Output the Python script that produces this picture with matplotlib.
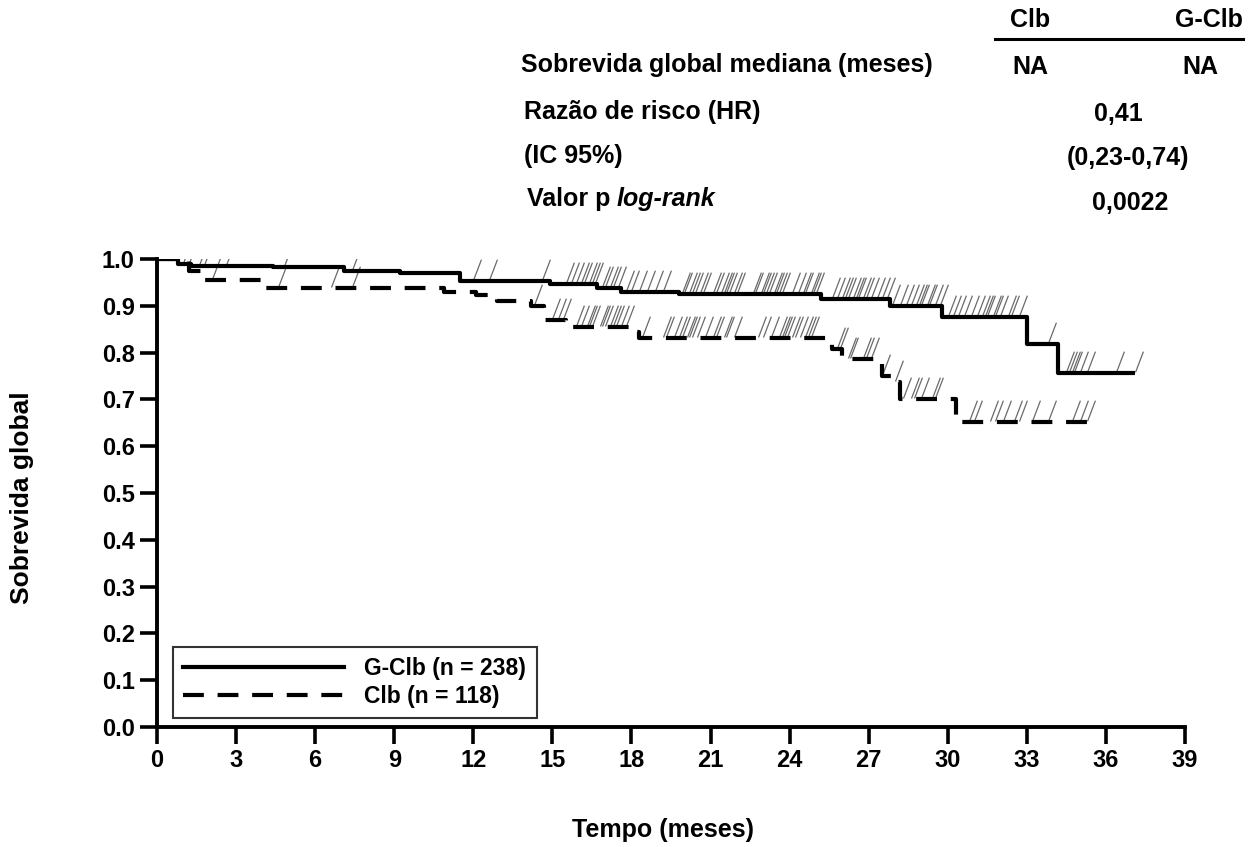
import numpy as np
import matplotlib
matplotlib.use("Agg")
import matplotlib.pyplot as plt
from matplotlib.path import Path
from matplotlib.lines import Line2D

plt.rcParams['font.family'] = ['Liberation Sans', 'DejaVu Sans']
plt.rcParams['font.weight'] = 'bold'

# ---- data: step times (month where the new value starts) and survival values
gclb_t = [0, 0.8, 1.3, 4.4, 7.1, 9.2, 11.5, 14.9, 16.7, 17.6, 19.8, 25.2, 27.8, 29.8, 33.0, 34.2]
gclb_s = [1.0, 0.99, 0.985, 0.983, 0.974, 0.970, 0.953, 0.946, 0.938, 0.929, 0.925, 0.914, 0.899, 0.876, 0.818, 0.756]
gclb_end = 37.1
gclb_cens = [0.3, 0.4, 0.5, 0.6, 0.7, 1.0, 1.2, 1.6, 1.8, 2.6, 4.8, 7.4, 12.0, 12.6, 14.6,
             15.5, 15.7, 15.9, 16.1, 16.2, 16.4, 16.5, 16.6, 16.9, 17.0, 17.2, 17.3, 17.5,
             17.8, 18.0, 18.3, 18.6, 18.9, 19.2, 19.9, 20.0, 20.2, 20.3, 20.4, 20.6, 20.7,
             21.1, 21.2, 21.4, 21.5, 21.6, 21.7, 21.9, 22.0, 22.6, 22.7, 22.9, 23.0, 23.1,
             23.2, 23.4, 23.5, 23.6, 23.7, 24.1, 24.3, 24.5, 24.6, 24.8, 24.9, 25.0,
             25.6, 25.8, 26.0, 26.1, 26.2, 26.4, 26.5, 26.6, 26.8, 26.9, 27.1, 27.3, 27.5, 27.7, 27.9,
             28.2, 28.4, 28.6, 28.8, 28.9, 29.0, 29.2, 29.3, 29.5, 29.7,
             30.0, 30.2, 30.4, 30.6, 30.9, 31.1, 31.3, 31.4, 31.5, 31.7, 31.8, 32.0, 32.3, 32.4, 32.7,
             33.8, 34.5, 34.6, 34.7, 34.8, 35.0, 35.3, 36.4, 37.1]

clb_t = [0, 1.2, 1.8, 4.1, 10.9, 12.1, 12.9, 14.2, 14.7, 15.5, 17.9, 18.3, 25.6, 26.0, 27.5, 27.9, 28.2, 30.3]
clb_s = [1.0, 0.975, 0.955, 0.938, 0.929, 0.923, 0.910, 0.899, 0.869, 0.854, 0.845, 0.831, 0.807, 0.786, 0.750, 0.737, 0.700, 0.651]
clb_end = 35.3
clb_cens = [2.1, 4.6, 6.6, 7.4, 14.3, 15.0, 15.2, 15.4, 15.9, 16.1, 16.3, 16.4, 16.5,
            16.8, 16.9, 17.0, 17.2, 17.3, 17.4, 17.6, 17.8, 18.4, 19.2, 19.3, 19.6, 19.8,
            19.9, 20.1, 20.2, 20.3, 20.5, 20.8, 21.1, 21.2, 21.5, 21.6, 21.9, 22.8, 23.0,
            23.3, 23.6, 23.7, 23.8, 23.9, 24.1, 24.2, 24.4, 24.6, 24.7, 24.8, 25.8, 25.9,
            26.2, 26.3, 26.8, 26.9, 27.1, 27.5, 28.0, 28.3, 28.6, 28.7, 29.0, 29.4, 29.5,
            30.8, 31.0, 31.6, 31.8, 32.1, 32.5, 32.7, 33.2, 33.8, 34.7, 35.0, 35.3]

labels = ['G-Clb (n = 238)', 'Clb (n = 118)']
xticks = np.arange(0, 40, 3)
yticks = np.round(np.arange(0, 1.01, 0.1), 1)

table_header = ['Clb', 'G-Clb']
median_os = ['NA', 'NA']
hr_text = '0,41'
ci_text = '(0,23-0,74)'
p_text = '0,0022'

# ---- figure
fig = plt.figure(figsize=(12.53, 8.47), dpi=100)
ax = fig.add_axes([157/1253, 1-727/847, (1185-157)/1253, (727-259)/847])

slash = Path([(0, 0), (0.38, 1.0)], [Path.MOVETO, Path.LINETO])

def km(ax, t, s, end, cens, **kw):
    tt = list(t) + [end]
    ss = list(s) + [s[-1]]
    ax.step(tt, ss, where='post', color='black', lw=3.0, solid_capstyle='butt', **kw)
    t_arr = np.array(t)
    idx = np.searchsorted(t_arr, np.array(cens), side='right') - 1
    yc = np.array(s)[idx]
    ax.plot(cens, yc + 0.002, linestyle='none', marker=slash, markersize=30,
            markeredgewidth=0.9, color='#6a6a6a', zorder=1)

km(ax, gclb_t, gclb_s, gclb_end, gclb_cens)
km(ax, clb_t, clb_s, clb_end, clb_cens, dashes=(5, 3.3))

ax.set_xlim(0, 39)
ax.set_ylim(0, 1.0)
ax.set_xticks(xticks)
ax.set_yticks(yticks)
ax.set_xticklabels([str(v) for v in xticks], fontsize=17, fontweight='bold')
ax.set_yticklabels([f'{v:.1f}' for v in yticks], fontsize=17, fontweight='bold')
for sp in ['top', 'right']:
    ax.spines[sp].set_visible(False)
for sp in ['left', 'bottom']:
    ax.spines[sp].set_linewidth(2.8)
ax.tick_params(axis='both', width=2.6, length=12, direction='out', pad=4)
ax.spines['left'].set_bounds(0, 1.0)
ax.spines['bottom'].set_bounds(0, 39)

fig.text(22/1253, 1-498/847, 'Sobrevida global', fontsize=19, fontweight='bold',
         rotation=90, ha='center', va='center')
fig.text(663/1253, 1-830/847, 'Tempo (meses)', fontsize=18, fontweight='bold', ha='center', va='center')

h1 = Line2D([], [], color='black', lw=3.0)
h2 = Line2D([], [], color='black', lw=3.0, dashes=(5, 3.3))
leg = ax.legend([h1, h2], labels, loc='lower left', bbox_to_anchor=(16/1028, 9/468),
                prop={'size': 16.5, 'weight': 'bold'}, handlelength=7, frameon=True,
                fancybox=False, edgecolor='black', borderpad=0.45, labelspacing=0.2,
                handletextpad=0.9, borderaxespad=0)
leg.get_frame().set_linewidth(1.5)

# ---- table
fs = 18
def ft(x, y, s, ha='left', **kw):
    return fig.text(x/1253, 1-y/847, s, fontsize=fs, fontweight='bold', ha=ha, va='center', **kw)

ft(1030, 20, table_header[0], ha='center')
ft(1243, 20, table_header[1], ha='right')
fig.add_artist(Line2D([995/1253, 1243/1253], [1-39/847, 1-39/847], color='black', lw=2.2))
ft(521, 65, 'Sobrevida global mediana (meses)')
ft(1030, 67, median_os[0], ha='center')
ft(1200, 67, median_os[1], ha='center')
ft(524, 112, 'Razão de risco (HR)')
ft(1118, 114, hr_text, ha='center')
ft(524, 156, '(IC 95%)')
ft(1128, 158, ci_text, ha='center')
tv = ft(527, 199, 'Valor p')
fig.canvas.draw()
bb = tv.get_window_extent(renderer=fig.canvas.get_renderer())
ft(bb.x1 + 6, 199, 'log-rank', style='italic')
ft(1130, 203, p_text, ha='center')

fig.savefig('out.png', dpi=100)
